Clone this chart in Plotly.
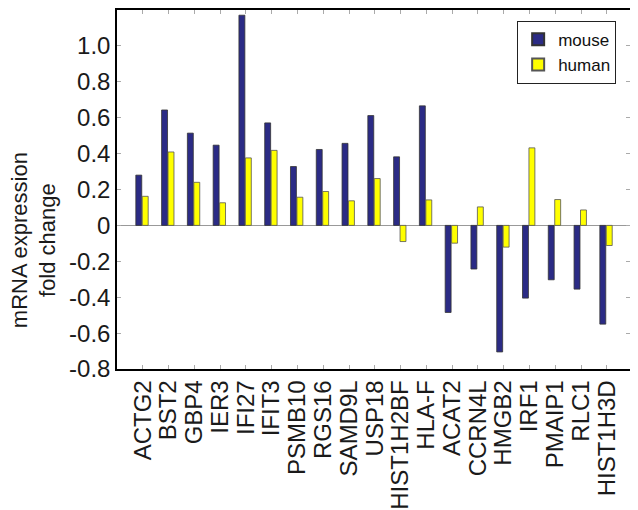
import plotly.graph_objects as go

genes = ["ACTG2", "BST2", "GBP4", "IER3", "IFI27", "IFIT3", "PSMB10", "RGS16",
         "SAMD9L", "USP18", "HIST1H2BF", "HLA-F", "ACAT2", "CCRN4L", "HMGB2",
         "IRF1", "PMAIP1", "RLC1", "HIST1H3D"]
mouse = [0.28, 0.643, 0.514, 0.447, 1.171, 0.571, 0.328, 0.423, 0.457, 0.612,
         0.382, 0.666, -0.485, -0.243, -0.705, -0.405, -0.303, -0.355, -0.55]
human = [0.162, 0.409, 0.24, 0.126, 0.376, 0.418, 0.157, 0.189, 0.137, 0.261,
         -0.09, 0.142, -0.099, 0.103, -0.121, 0.432, 0.144, 0.086, -0.112]
y_ticks = [-0.8, -0.6, -0.4, -0.2, 0, 0.2, 0.4, 0.6, 0.8, 1.0]
y_tick_text = ["-0.8", "-0.6", "-0.4", "-0.2", "0", "0.2", "0.4", "0.6", "0.8", "1.0"]
y_title = "mRNA expression<br>fold change"

FONT = "Liberation Sans, Arial, sans-serif"

fig = go.Figure()
fig.add_trace(go.Bar(x=genes, y=mouse, name="mouse", width=0.23, offset=-0.27,
                     marker=dict(color="#2b2b85", line=dict(color="#333333", width=0.8))))
fig.add_trace(go.Bar(x=genes, y=human, name="human", width=0.23, offset=-0.02,
                     marker=dict(color="#ffff00", line=dict(color="#555555", width=0.8))))

fig.update_layout(
    width=630, height=502,
    margin=dict(l=109, r=8, t=0, b=134),
    paper_bgcolor="white", plot_bgcolor="white",
    font=dict(family=FONT, size=24, color="#1a1a1a"),
    barmode="group",
    legend=dict(x=0.973, y=0.97, xanchor="right", yanchor="top",
                bordercolor="#222222", borderwidth=1, bgcolor="white",
                font=dict(size=17, color="#111111"), tracegroupgap=0,
                itemsizing="constant", itemwidth=30),
    xaxis=dict(range=[-1, 18.9], tickangle=-90, tickmode="array",
               tickvals=genes, ticktext=genes, showline=True, linecolor="black",
               linewidth=1.5, mirror="ticks", ticks="inside", ticklen=4,
               tickcolor="#aaaaaa", showgrid=False, tickfont=dict(size=24)),
    yaxis=dict(range=[-0.8, 1.2], tickvals=y_ticks, ticktext=y_tick_text,
               showline=True, linecolor="black", linewidth=1.5, mirror="ticks",
               ticks="inside", ticklen=4, tickcolor="#aaaaaa", showgrid=False,
               zeroline=True, zerolinecolor="#999999", zerolinewidth=1,
               tickfont=dict(size=24)),
    annotations=[dict(text=y_title, xref="paper", yref="paper", x=-0.163, y=0.36,
                      xanchor="center", yanchor="middle", textangle=-90,
                      showarrow=False, font=dict(size=22))],
)

fig.write_html("out.html")
